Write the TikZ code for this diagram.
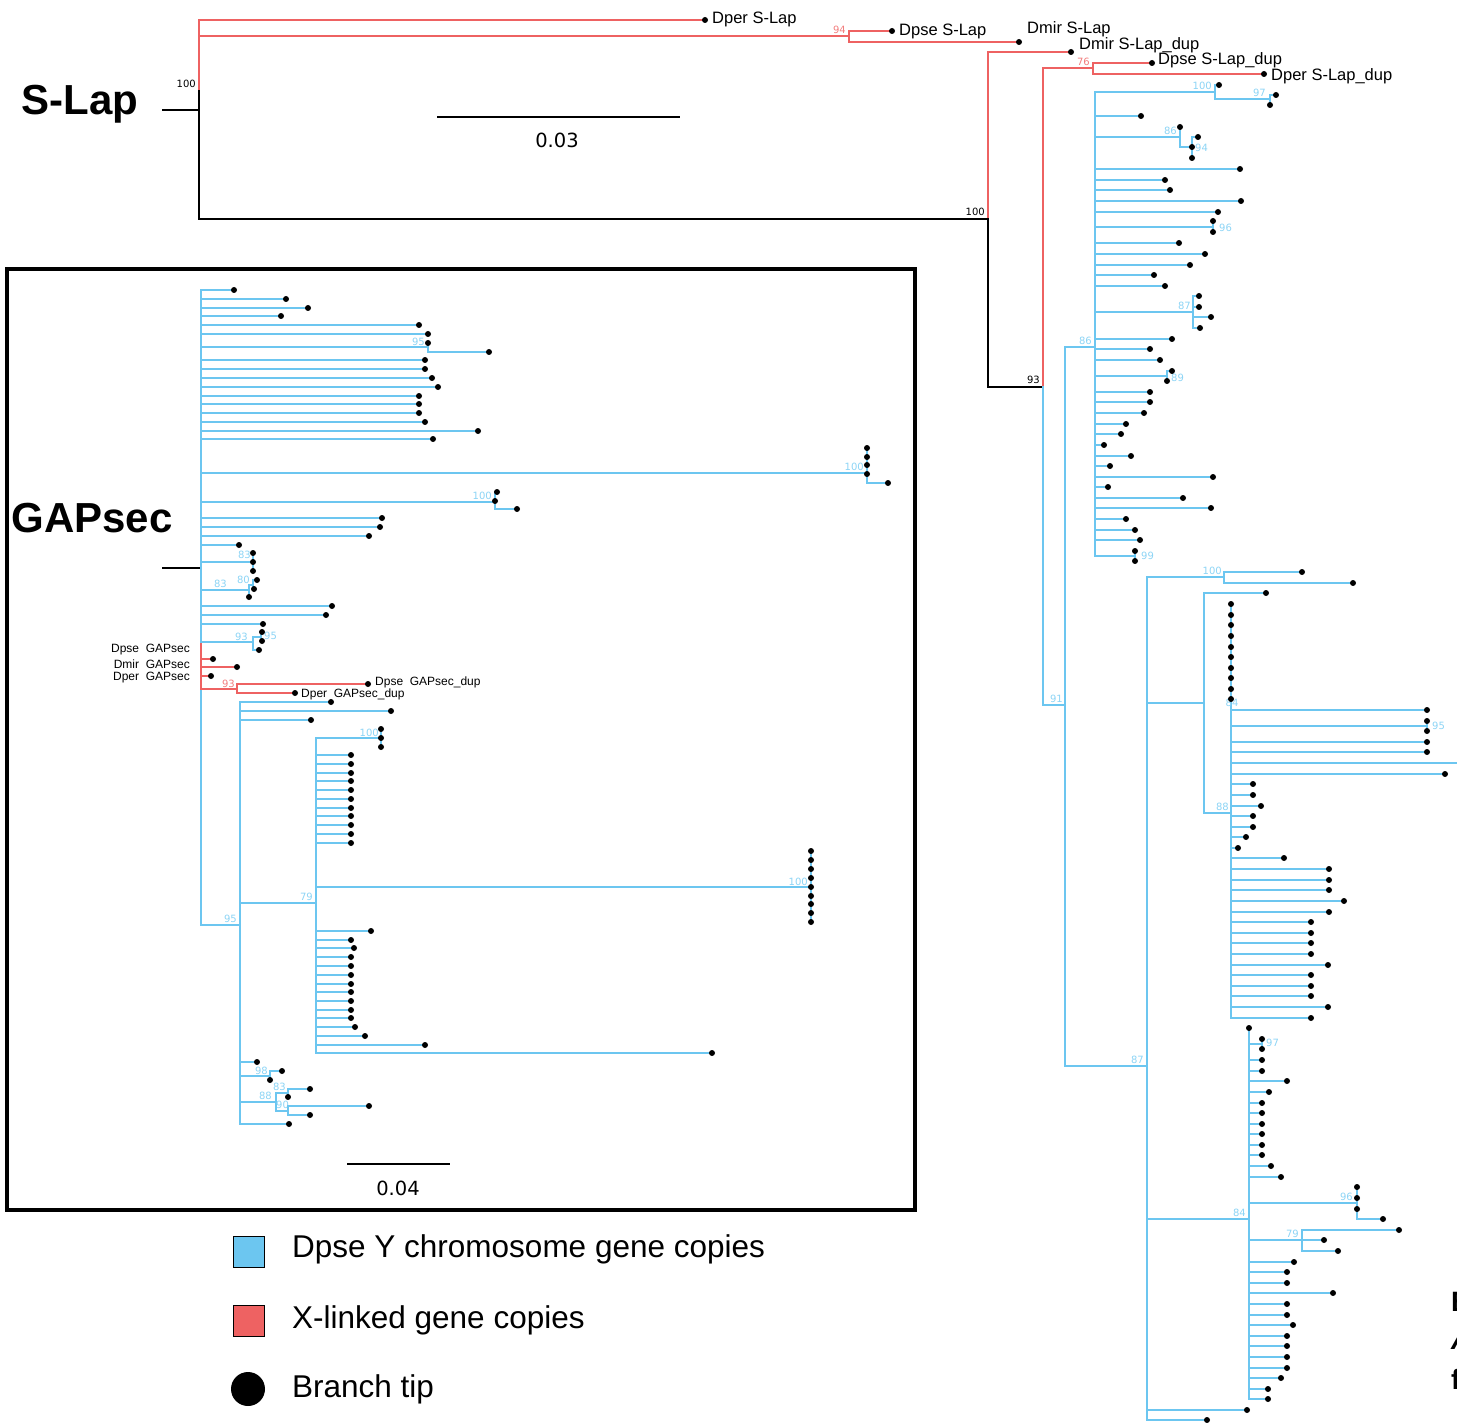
\documentclass[tikz,border=0pt]{standalone}
\usepackage{fontspec}
\setmainfont{Liberation Sans}
\newfontfamily\dvs{DejaVu Sans}
\definecolor{blu}{RGB}{108,198,240}
\definecolor{rd}{RGB}{238,98,98}
\definecolor{blul}{RGB}{140,212,245}
\definecolor{rdl}{RGB}{242,125,125}
\pgfdeclarelayer{fg}
\pgfsetlayers{main,fg}
\newcount\tipn
\newcommand\tip[4][blu]{%
  \global\advance\tipn by 1
  \edef\tn{\the\tipn}%
  \coordinate (p\tn) at (#2,#3);
  \coordinate (t\tn) at (#4,#3);
  \draw[br,draw=#1] (p\tn) -- (t\tn);
  \begin{pgfonlayer}{fg}\node[dot] (d\tn) at (t\tn) {};\end{pgfonlayer}}
\newcommand\tips[3][blu]{\foreach \yy/\xx in {#3}{\tip[#1]{#2}{\yy}{\xx}}}
\tikzset{
  br/.style={line width=1.7pt,line cap=rect},
  B/.style={br,draw=blu}, R/.style={br,draw=rd}, K/.style={br,draw=black},
  dot/.style={circle,fill=black,inner sep=0pt,minimum size=6pt},
  bs/.style={font=\dvs\fontsize{10}{12}\selectfont,text=blul,inner sep=0pt},
  rs/.style={bs,text=rdl},
  ks/.style={bs,text=black},
  lbl/.style={font=\fontsize{16.5}{18}\selectfont,inner sep=0pt,anchor=west},
  glbl/.style={font=\fontsize{12}{14}\selectfont,inner sep=0pt},
  big/.style={font=\bfseries\fontsize{42}{46}\selectfont,inner sep=0pt},
  leg/.style={font=\fontsize{31.5}{34}\selectfont,inner sep=0pt,anchor=west},
  sc/.style={font=\dvs\fontsize{19.5}{22}\selectfont,inner sep=0pt},
  cut/.style={font=\bfseries\fontsize{28}{30}\selectfont,inner sep=0pt,anchor=west},
}
\begin{document}
\begin{tikzpicture}[x=1pt,y=-1pt]
\useasboundingbox (0,0) rectangle (1457,1423);
% ================= S-Lap =================
\node[big] (slap) at (80,104) {S-Lap};
\coordinate (sroot) at (199,110);
\draw[K] (163,110) -- (sroot);
\draw[R] (199,20) -- (199,91);
\draw[K] (199,91) -- (199,219);
\node[ks,anchor=south east] (s1) at (196,88) {100};
\tip[rd]{199}{20}{705}
\node[lbl] (l1) at (712,19) {Dper S-Lap};
\draw[R] (199,36) -- (849,36);
\draw[R] (849,31) -- (849,42);
\node[rs,anchor=south east] (s2) at (846,34) {94};
\tip[rd]{849}{31}{892}
\node[lbl] (l2) at (899,31) {Dpse S-Lap};
\tip[rd]{849}{42}{1019}
\node[lbl] (l3) at (1027,29) {Dmir S-Lap};
\draw[K] (199,219) -- (988,219);
\node[ks,anchor=south east] (s3) at (985,216) {100};
\draw[R] (988,52) -- (988,219);
\draw[K] (988,219) -- (988,387);
\tip[rd]{988}{52}{1071}
\node[lbl] (l4) at (1079,45) {Dmir S-Lap\_dup};
\draw[K] (988,387) -- (1043,387);
\node[ks,anchor=south east] (s4) at (1040,384) {93};
\draw[R] (1043,68) -- (1043,387);
\draw[B] (1043,387) -- (1043,705);
\draw[R] (1043,68) -- (1093,68);
\node[rs,anchor=south east] (s5) at (1090,66) {76};
\draw[R] (1093,63) -- (1093,74);
\tip[rd]{1093}{63}{1152}
\node[lbl] (l5) at (1158,60) {Dpse S-Lap\_dup};
\tip[rd]{1093}{74}{1264}
\node[lbl] (l6) at (1271,76) {Dper S-Lap\_dup};
% scale bar
\coordinate (sb1) at (438,117); \coordinate (sb2) at (679,117);
\draw[K] (sb1) -- (sb2);
\node[sc] (sbl) at (557,140) {0.03};
% blue clade
\draw[B] (1043,705) -- (1065,705);
\node[bs,anchor=south east] at (1063,703) {91};
\draw[B] (1065,347) -- (1065,1066);
\draw[B] (1065,347) -- (1095,347);
\node[bs,anchor=south east] at (1092,345) {86};
\draw[B] (1095,92) -- (1095,556);
% node 100 / 97
\draw[B] (1095,92) -- (1215,92);
\node[bs,anchor=south east] at (1212,90) {100};
\draw[B] (1215,85) -- (1215,99);
\tip{1215}{85}{1219}
\draw[B] (1215,99) -- (1270,99);
\node[bs,anchor=south east] at (1266,97) {97};
\draw[B] (1270,95) -- (1270,105);
\tips{1270}{95/1276,105/1270}
\tips{1095}{116/1141}
% node 86 / 94
\draw[B] (1095,137) -- (1180,137);
\node[bs,anchor=south east] at (1177,135) {86};
\draw[B] (1180,127) -- (1180,147);
\tip{1180}{127}{1180}
\draw[B] (1180,147) -- (1192,147);
\draw[B] (1192,137) -- (1192,158);
\tips{1192}{137/1198,147/1192,158/1192}
\node[bs,anchor=west] at (1195,148) {94};
\tips{1095}{169/1240,180/1165,190/1170,201/1241,212/1218}
% node 96
\draw[B] (1095,227) -- (1213,227);
\draw[B] (1213,221) -- (1213,232);
\tips{1213}{221/1213,232/1213}
\node[bs,anchor=west] at (1219,228) {96};
\tips{1095}{243/1179,254/1205,265/1190,275/1154,286/1165}
% node 87
\draw[B] (1095,312) -- (1193,312);
\node[bs,anchor=south east] at (1191,310) {87};
\draw[B] (1193,296) -- (1193,328);
\tips{1193}{296/1199,307/1199,317/1211,328/1200}
\tips{1095}{339/1172,349/1150,360/1160}
% node 89
\draw[B] (1095,376) -- (1167,376);
\draw[B] (1167,371) -- (1167,381);
\tips{1167}{371/1172,381/1167}
\node[bs,anchor=west] at (1171,378) {89};
\tips{1095}{392/1150,402/1150,413/1144,424/1126,434/1121,445/1104,456/1131,466/1110,477/1213,487/1108,498/1183,508/1211,519/1126,530/1135,540/1140}
% node 99
\draw[B] (1095,556) -- (1135,556);
\draw[B] (1135,551) -- (1135,561);
\tips{1135}{551/1135,561/1135}
\node[bs,anchor=west] at (1141,556) {99};
% clade 87
\draw[B] (1065,1066) -- (1147,1066);
\node[bs,anchor=south east] at (1144,1064) {87};
\draw[B] (1147,577) -- (1147,1420);
\draw[B] (1147,577) -- (1224,577);
\node[bs,anchor=south east] at (1222,575) {100};
\draw[B] (1224,572) -- (1224,583);
\tips{1224}{572/1302,583/1353}
\draw[B] (1147,703) -- (1204,703);
\draw[B] (1204,593) -- (1204,813);
\tip{1204}{593}{1266}
\draw[B] (1204,813) -- (1231,813);
\node[bs,anchor=south east] at (1229,811) {88};
\draw[B] (1231,604) -- (1231,1018);
\tips{1231}{604/1231,615/1231,625/1231,636/1231,647/1231,657/1231,668/1231,678/1231,689/1231,699/1231}
\node[bs] at (1232,703) {84};
\tips{1231}{710/1427}
\draw[B] (1231,726) -- (1427,726);
\draw[B] (1427,721) -- (1427,731);
\tips{1427}{721/1427,731/1427}
\node[bs,anchor=west] at (1432,726) {95};
\tips{1231}{742/1427,752/1427}
\draw[B] (1231,763) -- (1470,763);
\tips{1231}{774/1445,784/1253,795/1253,806/1261,816/1253,827/1253,837/1246,848/1238,858/1284,869/1329,880/1329,890/1329,901/1344,912/1329,922/1311,933/1311,943/1311,954/1311,965/1328,975/1311,986/1311,996/1311,1007/1328,1018/1311}
% node 84 lower
\draw[B] (1147,1219) -- (1249,1219);
\node[bs,anchor=south east] at (1246,1217) {84};
\draw[B] (1249,1028) -- (1249,1399);
\tip{1249}{1028}{1249}
\draw[B] (1249,1044) -- (1262,1044);
\draw[B] (1262,1039) -- (1262,1049);
\tips{1262}{1039/1262,1049/1262}
\node[bs,anchor=west] at (1266,1043) {97};
\tips{1249}{1060/1262,1071/1262,1081/1287,1092/1269,1103/1262,1113/1262,1124/1262,1134/1262,1145/1262,1155/1262,1166/1271,1177/1281}
\draw[B] (1249,1203) -- (1357,1203);
\node[bs,anchor=south east] at (1353,1201) {96};
\draw[B] (1357,1187) -- (1357,1219);
\tips{1357}{1187/1357,1198/1357,1209/1357,1219/1383}
\draw[B] (1249,1240) -- (1302,1240);
\node[bs,anchor=south east] at (1299,1238) {79};
\draw[B] (1302,1230) -- (1302,1251);
\tips{1302}{1230/1399,1240/1324,1251/1338}
\tips{1249}{1262/1294,1272/1287,1283/1287,1293/1333,1304/1287,1315/1287,1325/1293,1336/1287,1346/1287,1357/1287,1368/1287,1378/1281,1389/1268,1399/1268}
\tips{1147}{1410/1247,1420/1207}
% text cut off at the right edge, as in the reference
\node[cut] (c1) at (1451,1302) {B};
\node[cut] (c2) at (1451,1340) {\itshape A};
\node[cut] (c3) at (1451,1379) {f};
% ================= GAPsec =================
\draw[line width=3.5pt] (7,269) rectangle (915,1210);
\node[big] (gap) at (92,518) {GAPsec};
\coordinate (groot) at (201,568);
\draw[K] (163,568) -- (groot);
\draw[B] (201,290) -- (201,644);
\draw[R] (201,644) -- (201,690);
\draw[B] (201,690) -- (201,925);
\tips{201}{290/234,299/286,308/308,316/281,325/419,334/428}
\draw[B] (201,347) -- (428,347);
\node[bs,anchor=south east] at (425,346) {95};
\draw[B] (428,343) -- (428,352);
\tips{428}{343/428,352/489}
\tips{201}{360/425,369/425,378/432,387/438,396/419,404/419,413/419,422/425,431/478,439/433}
\draw[B] (201,473) -- (867,473);
\node[bs,anchor=south east] at (864,471) {100};
\draw[B] (867,448) -- (867,483);
\tips{867}{448/867,457/867,465/867,474/867,483/888}
\draw[B] (201,502) -- (495,502);
\node[bs,anchor=south east] at (492,500) {100};
\draw[B] (495,492) -- (495,509);
\tips{495}{492/497,501/495,509/517}
\tips{201}{518/382,527/380,536/369,545/239}
\draw[B] (201,562) -- (253,562);
\node[bs,anchor=south east] at (251,559) {83};
\draw[B] (253,553) -- (253,571);
\tips{253}{553/253,562/253,571/253}
\draw[B] (201,590) -- (249,590);
\node[bs,anchor=south east] at (227,588) {83};
\draw[B] (249,585) -- (249,597);
\draw[B] (249,585) -- (253,585);
\node[bs,anchor=south east] at (250,584) {80};
\draw[B] (253,580) -- (253,589);
\tips{253}{580/257,589/254}
\tip{249}{597}{249}
\tips{201}{606/332,615/326,624/263}
\draw[B] (201,642) -- (253,642);
\node[bs,anchor=south east] at (248,641) {93};
\draw[B] (253,637) -- (253,650);
\draw[B] (253,637) -- (261,637);
\draw[B] (261,632) -- (261,641);
\tips{261}{632/262,641/262}
\tip{253}{650}{259}
\node[bs,anchor=west] at (264,636) {95};
\tips[rd]{201}{659/213,667/237,676/211}
\node[glbl,anchor=east] (g1) at (190,650) {Dpse\ \ GAPsec};
\node[glbl,anchor=east] (g2) at (190,664) {Dmir\ \ GAPsec};
\node[glbl,anchor=east] (g3) at (190,678) {Dper\ \ GAPsec};
\draw[R] (201,689) -- (237,689);
\node[rs,anchor=south east] at (235,688) {93};
\draw[R] (237,684) -- (237,693);
\tips[rd]{237}{684/368,693/295}
\node[glbl,anchor=west] (g4) at (375,682) {Dpse\ \ GAPsec\_dup};
\node[glbl,anchor=west] (g5) at (301,694) {Dper\ \ GAPsec\_dup};
% lower clade
\draw[B] (201,925) -- (240,925);
\node[bs,anchor=south east] at (237,923) {95};
\draw[B] (240,702) -- (240,1124);
\tips{240}{702/331,711/391,720/311}
\draw[B] (240,903) -- (316,903);
\node[bs,anchor=south east] at (313,901) {79};
\draw[B] (316,738) -- (316,1053);
\draw[B] (316,738) -- (381,738);
\node[bs,anchor=south east] at (379,737) {100};
\draw[B] (381,729) -- (381,747);
\tips{381}{729/381,738/381,747/381}
\tips{316}{755/351,764/351,773/351,781/351,790/351,799/351,808/351,816/351,825/351,834/351,843/351}
\draw[B] (316,887) -- (811,887);
\node[bs,anchor=south east] at (808,886) {100};
\draw[B] (811,851) -- (811,922);
\tips{811}{851/811,860/811,869/811,878/811,887/811,896/811,904/811,913/811,922/811}
\tips{316}{931/371,940/351,948/354,957/351,966/351,975/351,984/351,992/351,1001/351,1010/351,1018/351,1027/355,1036/365,1045/425,1053/712}
\tips{240}{1062/257}
\draw[B] (240,1076) -- (270,1076);
\node[bs,anchor=south east] at (268,1075) {98};
\draw[B] (270,1071) -- (270,1080);
\tips{270}{1071/282,1080/270}
\draw[B] (240,1102) -- (276,1102);
\node[bs,anchor=south east] at (272,1100) {88};
\draw[B] (276,1093) -- (276,1111);
\draw[B] (276,1093) -- (288,1093);
\node[bs,anchor=south east] at (286,1091) {83};
\draw[B] (288,1089) -- (288,1097);
\tips{288}{1089/310,1097/288}
\draw[B] (276,1111) -- (288,1111);
\node[bs,anchor=west] at (276,1105) {90};
\draw[B] (288,1106) -- (288,1115);
\tips{288}{1106/369,1115/310}
\tips{240}{1124/289}
% scale bar
\coordinate (gb1) at (348,1164); \coordinate (gb2) at (449,1164);
\draw[K] (gb1) -- (gb2);
\node[sc] (gbl) at (398,1188) {0.04};
% ================= legend =================
\node[draw=black,line width=1.3pt,fill=blu,minimum size=31pt,inner sep=0pt] (k1) at (249,1252) {};
\node[leg] (k1t) at (292,1249) {Dpse Y chromosome gene copies};
\node[draw=black,line width=1.3pt,fill=rd,minimum size=31pt,inner sep=0pt] (k2) at (249,1321) {};
\node[leg] (k2t) at (292,1320) {X-linked gene copies};
\node[circle,fill=black,minimum size=34pt,inner sep=0pt] (k3) at (248,1389) {};
\node[leg] (k3t) at (292,1389) {Branch tip};
\end{tikzpicture}
\end{document}
